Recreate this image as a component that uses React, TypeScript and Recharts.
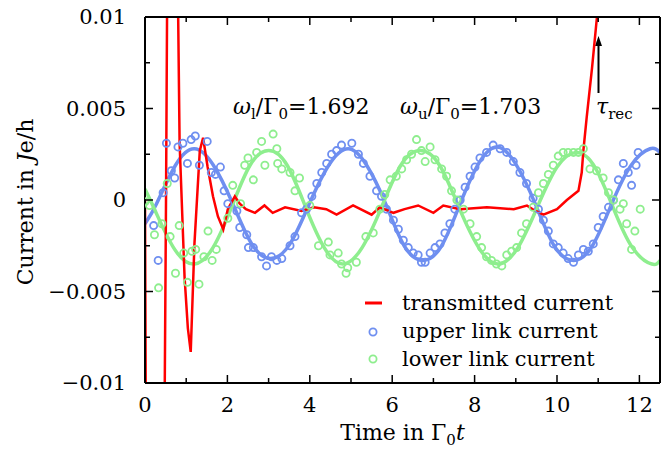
import { ComposedChart, Line, Scatter, XAxis, YAxis, Legend } from "recharts";

// axis ticks (every tick is drawn, only the major ones get a label)
const xTicks = [0, 1, 2, 3, 4, 5, 6, 7, 8, 9, 10, 11, 12];
const yTicks = [-0.01, -0.0075, -0.005, -0.0025, 0, 0.0025, 0.005, 0.0075, 0.01];
const yTickLabels: Record<string, string> = {
  "-0.01": "\u22120.01",
  "-0.005": "\u22120.005",
  "0": "0",
  "0.005": "0.005",
  "0.01": "0.01",
};
const seriesNames = ["transmitted current", "upper link current", "lower link current"];

// transmitted current [t, J]; leaves the plot range near t=0.5 and after tau_rec
const transmitted = [
  [0, 0], [0.02, -0.012], [0.1, -0.03], [0.3, -0.04], [0.45, -0.02], [0.51, 0.0],
  [0.56, 0.02], [0.68, 0.035], [0.78, 0.015], [0.84, 0.0031], [0.96, -0.0042],
  [1.04, -0.007], [1.11, -0.0083], [1.2, -0.0024], [1.33, 0.0027], [1.41, 0.0034],
  [1.52, 0.0018], [1.65, 0.0002], [1.77, -0.0009], [1.9, -0.0016], [2.01, -0.0005],
  [2.18, 0.0002], [2.3, -0.0002], [2.45, -0.0005], [2.67, -0.0007], [2.9, -0.0003],
  [3.1, -0.0007], [3.4, -0.0004], [3.8, -0.0006], [4.1, -0.0004], [4.4, -0.0005],
  [4.65, -0.0008], [5.05, -0.0003], [5.5, -0.0008], [5.7, -0.0004], [6.03, -0.0007],
  [6.3, -0.0005], [6.63, -0.0003], [7.0, -0.0007], [7.24, -0.0003], [7.65, -0.0005],
  [8.3, -0.0004], [8.95, -0.0005], [9.27, -0.0003], [9.4, -0.0005], [9.67, -0.0008],
  [10.0, -0.0005], [10.24, 0.0], [10.52, 0.0005], [10.6, 0.0015], [10.64, 0.0027],
  [10.72, 0.0045], [10.85, 0.0072], [10.97, 0.01], [11.1, 0.013], [11.2, 0.016],
];

// fitted oscillations
const upperFit = [
  [0, -0.0013], [0.28, -0.0002], [0.74, 0.0019], [1.2, 0.0028], [1.66, 0.0019],
  [2.13, -0.0002], [2.59, -0.0024], [3.05, -0.0032], [3.52, -0.0024], [3.99, -0.0002],
  [4.46, 0.0019], [4.93, 0.0028], [5.38, 0.0019], [5.84, -0.0002], [6.29, -0.0025],
  [6.75, -0.0033], [7.2, -0.0025], [7.65, -0.0002], [8.1, 0.002], [8.54, 0.0029],
  [8.99, 0.002], [9.47, -0.0002], [9.93, -0.0025], [10.4, -0.0033], [10.86, -0.0025],
  [11.33, -0.0002], [11.8, 0.0019], [12.26, 0.0028], [12.5, 0.0026],
];
const lowerFit = [
  [0, 0.0006], [0.25, -0.0006], [0.72, -0.0027], [1.2, -0.0035], [1.65, -0.0026],
  [2.1, -0.0004], [2.55, 0.0019], [3.0, 0.0027], [3.45, 0.0019], [3.9, -0.0004],
  [4.35, -0.0026], [4.8, -0.0035], [5.27, -0.0026], [5.74, -0.0004], [6.21, 0.0019],
  [6.68, 0.0027], [7.15, 0.0019], [7.62, -0.0004], [8.1, -0.0026], [8.57, -0.0035],
  [9.05, -0.0026], [9.52, -0.0004], [10.0, 0.0018], [10.48, 0.0026], [10.92, 0.0018],
  [11.36, -0.0004], [11.83, -0.0026], [12.3, -0.0035], [12.5, -0.0033],
];

// simulated link currents
const upperPoints = [
  [0.21, -0.0014], [0.32, -0.0033], [0.44, 0.0004], [0.52, 0.0031], [0.64, 0.0016],
  [0.72, 0.0012], [0.8, 0.0029], [0.92, 0.0031], [1.03, 0.002], [1.12, 0.0033],
  [1.22, 0.0035], [1.32, 0.0019], [1.51, 0.0032], [1.61, 0.0015], [1.71, 0.0014],
  [1.83, 0.0018], [1.92, 0.0005], [2.01, -0.0002], [2.23, -0.0006], [2.3, -0.0015],
  [2.47, -0.0019], [2.51, -0.0026], [2.63, -0.0026], [2.83, -0.0031], [2.95, -0.0036],
  [3.07, -0.0031], [3.2, -0.0033], [3.32, -0.0032], [3.52, -0.0025], [3.64, -0.002],
  [3.8, -0.0007], [3.92, -0.0005], [4.05, 0.0002], [4.17, 0.0009], [4.29, 0.0015],
  [4.41, 0.002], [4.53, 0.0025], [4.65, 0.0027], [4.77, 0.003], [5.02, 0.0031],
  [5.18, 0.0025], [5.3, 0.002], [5.46, 0.0013], [5.62, 0.0005], [5.74, 0.0002],
  [5.86, -0.0005], [6.03, -0.0011], [6.15, -0.0016], [6.27, -0.0022], [6.39, -0.0026],
  [6.51, -0.0029], [6.63, -0.003], [6.71, -0.0034], [6.8, -0.0034], [6.92, -0.0029],
  [7.04, -0.0026], [7.16, -0.0024], [7.28, -0.0018], [7.4, -0.0013], [7.52, -0.0005],
  [7.65, 0.0], [7.77, 0.0007], [7.89, 0.0013], [8.01, 0.0018], [8.13, 0.0023],
  [8.29, 0.0026], [8.45, 0.003], [8.62, 0.0028], [8.78, 0.0026], [8.94, 0.0021],
  [9.1, 0.0015], [9.26, 0.0009], [9.42, 0.0001], [9.55, -0.0005], [9.67, -0.0011],
  [9.79, -0.0017], [9.91, -0.0024], [10.03, -0.0026], [10.15, -0.0029], [10.27, -0.0032],
  [10.4, -0.0034], [10.52, -0.003], [10.64, -0.0027], [10.76, -0.0028], [10.88, -0.0024],
  [11.0, -0.0015], [11.12, -0.0009], [11.25, -0.0004], [11.37, 0.0], [11.49, 0.0011],
  [11.61, 0.002], [11.73, 0.0015], [11.81, 0.0008], [11.92, 0.0019], [11.97, 0.0026],
];
const lowerPoints = [
  [0.0, -0.0001], [0.11, -0.0003], [0.23, -0.0019], [0.33, -0.0048], [0.41, -0.0013],
  [0.54, 0.0009], [0.61, -0.002], [0.74, -0.004], [0.83, -0.0014], [0.94, -0.0029],
  [1.03, -0.0045], [1.14, -0.0028], [1.23, -0.0027], [1.31, -0.0046], [1.43, -0.0031],
  [1.53, -0.0017], [1.63, -0.0033], [1.73, -0.0027], [2.01, -0.001], [2.13, 0.0008],
  [2.32, -0.0002], [2.42, 0.0019], [2.5, 0.0023], [2.63, 0.0011], [2.71, 0.0026],
  [2.83, 0.0032], [2.91, 0.0019], [3.11, 0.0036], [3.2, 0.0028], [3.22, 0.002],
  [3.32, 0.0017], [3.52, 0.0015], [3.64, 0.0005], [3.75, 0.0012], [4.0, -0.0003],
  [4.21, -0.0025], [4.45, -0.0023], [4.49, -0.003], [4.69, -0.0029], [4.77, -0.0035],
  [4.88, -0.004], [4.92, -0.0037], [5.13, -0.0034], [5.36, -0.002], [5.54, -0.0018],
  [5.7, -0.0005], [5.82, 0.0003], [5.95, 0.0011], [6.1, 0.0013], [6.23, 0.0017],
  [6.35, 0.0022], [6.47, 0.0025], [6.59, 0.0033], [6.71, 0.0027], [6.8, 0.0021],
  [6.92, 0.0029], [7.04, 0.0022], [7.2, 0.0017], [7.32, 0.0013], [7.44, 0.0005],
  [7.57, 0.0], [7.73, -0.0005], [7.89, -0.0013], [8.05, -0.002], [8.17, -0.0026],
  [8.29, -0.0031], [8.41, -0.0033], [8.53, -0.0035], [8.66, -0.0036], [8.78, -0.003],
  [8.9, -0.0028], [9.02, -0.0026], [9.14, -0.0018], [9.26, -0.0013], [9.42, -0.0004],
  [9.55, 0.0004], [9.67, 0.0009], [9.79, 0.0014], [9.91, 0.0019], [10.03, 0.0024],
  [10.15, 0.0026], [10.27, 0.0026], [10.4, 0.0026], [10.52, 0.0026], [10.64, 0.0028],
  [10.8, 0.0017], [10.96, 0.0016], [11.12, 0.0012], [11.25, 0.0004], [11.37, 0.0],
  [11.53, -0.0005], [11.61, -0.0002], [11.69, -0.0013], [11.81, -0.0027], [11.89, -0.0017],
  [12.02, -0.0005],
];

const RED = "#ff0000";
const BLUE = "#6f8ff0";
const GREEN = "#8eee8e";
const FONT = "DejaVu Serif";

const toPts = (a: number[][]) => a.map(([t, v]) => ({ t, v }));

const BottomTick = (props: any) => {
  const { x, y, payload } = props;
  const major = payload.value % 2 === 0;
  return (
    <g>
      <line x1={x} x2={x} y1={y} y2={y - (major ? 8 : 5)} stroke="#000" strokeWidth={1.5} />
      {major && (
        <text x={x} y={y + 29} textAnchor="middle" fontFamily={FONT} fontSize={21} fill="#000">
          {payload.value}
        </text>
      )}
    </g>
  );
};

const TopTick = (props: any) => {
  const { x, y, payload } = props;
  const major = payload.value % 2 === 0;
  return <line x1={x} x2={x} y1={y} y2={y + (major ? 8 : 5)} stroke="#000" strokeWidth={1.5} />;
};

const LeftTick = (props: any) => {
  const { x, y, payload } = props;
  const label = yTickLabels[String(payload.value)];
  return (
    <g>
      <line x1={x} x2={x + (label ? 8 : 5)} y1={y} y2={y} stroke="#000" strokeWidth={1.5} />
      {label && (
        <text x={x - 19} y={y + 7} textAnchor="end" fontFamily={FONT} fontSize={21} fill="#000">
          {label}
        </text>
      )}
    </g>
  );
};

const RightTick = (props: any) => {
  const { x, y, payload } = props;
  const major = yTickLabels[String(payload.value)] !== undefined;
  return <line x1={x} x2={x - (major ? 8 : 5)} y1={y} y2={y} stroke="#000" strokeWidth={1.5} />;
};

const circle = (color: string) => (p: any) =>
  <circle cx={p.cx} cy={p.cy} r={3.6} fill="none" stroke={color} strokeWidth={1.8} />;

const LegendBox = () => (
  <svg width={290} height={95} style={{ overflow: "visible" }}>
    <line x1={10} x2={27} y1={18} y2={18} stroke={RED} strokeWidth={3} />
    <circle cx={18} cy={47} r={3.6} fill="none" stroke={BLUE} strokeWidth={1.8} />
    <circle cx={18} cy={74} r={3.6} fill="none" stroke={GREEN} strokeWidth={1.8} />
    {seriesNames.map((name, i) => (
      <text key={name} x={47} y={25 + i * 28} fontFamily={FONT} fontSize={21} fill="#000">
        {name}
      </text>
    ))}
  </svg>
);

const frame = { stroke: "#000", strokeWidth: 2 };

export default function App() {
  return (
    <div style={{ position: "absolute", left: 0, top: 0, background: "#fff" }}>
      <ComposedChart width={671} height={453} margin={{ top: 16, right: 10, bottom: 69, left: 144 }}>
        <XAxis
          xAxisId="bottom" orientation="bottom" type="number" dataKey="t" domain={[0, 12.5]} allowDataOverflow
          ticks={xTicks} interval={0} height={1} tickSize={0} tickMargin={0} tickLine={false} tick={BottomTick}
          axisLine={frame}
        />
        <XAxis
          xAxisId="top" orientation="top" type="number" dataKey="t" domain={[0, 12.5]} allowDataOverflow
          ticks={xTicks} interval={0} height={1} tickSize={0} tickMargin={0} tickLine={false} tick={TopTick}
          axisLine={frame}
        />
        <YAxis
          yAxisId="left" orientation="left" type="number" dataKey="v" domain={[-0.01, 0.01]} allowDataOverflow
          ticks={yTicks} interval={0} width={1} tickSize={0} tickMargin={0} tickLine={false} tick={LeftTick}
          axisLine={frame}
        />
        <YAxis
          yAxisId="right" orientation="right" type="number" dataKey="v" domain={[-0.01, 0.01]} allowDataOverflow
          ticks={yTicks} interval={0} width={1} tickSize={0} tickMargin={0} tickLine={false} tick={RightTick}
          axisLine={frame}
        />
        <Scatter xAxisId="bottom" yAxisId="left" name={seriesNames[1]} data={toPts(upperPoints)} dataKey="v" shape={circle(BLUE)} isAnimationActive={false} />
        <Scatter xAxisId="bottom" yAxisId="left" name={seriesNames[2]} data={toPts(lowerPoints)} dataKey="v" shape={circle(GREEN)} isAnimationActive={false} />
        <Line xAxisId="bottom" yAxisId="left" data={toPts(upperFit)} dataKey="v" type="natural" stroke={BLUE} strokeWidth={3.5} dot={false} legendType="none" isAnimationActive={false} />
        <Line xAxisId="bottom" yAxisId="left" data={toPts(lowerFit)} dataKey="v" type="natural" stroke={GREEN} strokeWidth={3.5} dot={false} legendType="none" isAnimationActive={false} />
        <Line xAxisId="bottom" yAxisId="left" name={seriesNames[0]} data={toPts(transmitted)} dataKey="v" type="linear" stroke={RED} strokeWidth={2.5} dot={false} isAnimationActive={false} />
        <Legend
          layout="vertical" align="center" verticalAlign="middle" content={LegendBox}
          wrapperStyle={{ position: "absolute", left: 355, top: 285, width: 290, height: 95 }}
        />
        <text x={402.5} y={440} textAnchor="middle" fontFamily={FONT} fontSize={22} fill="#000">
          Time in {"\u0393"}
          <tspan fontSize={15} dy={5}>0</tspan>
          <tspan fontStyle="italic" dy={-5}>t</tspan>
        </text>
        <text transform="translate(33,202) rotate(-90)" textAnchor="middle" fontFamily={FONT} fontSize={22} fill="#000">
          Current in <tspan fontStyle="italic">J</tspan>e/h
        </text>
        <text x={233} y={114} fontFamily={FONT} fontSize={22} fill="#000">
          <tspan fontStyle="italic">{"\u03c9"}</tspan>
          <tspan fontSize={15} dy={5}>l</tspan>
          <tspan dy={-5}>/{"\u0393"}</tspan>
          <tspan fontSize={15} dy={5}>0</tspan>
          <tspan dy={-5}>=1.692</tspan>
        </text>
        <text x={400} y={114} fontFamily={FONT} fontSize={22} fill="#000">
          <tspan fontStyle="italic">{"\u03c9"}</tspan>
          <tspan fontSize={15} dy={5}>u</tspan>
          <tspan dy={-5}>/{"\u0393"}</tspan>
          <tspan fontSize={15} dy={5}>0</tspan>
          <tspan dy={-5}>=1.703</tspan>
        </text>
        <text x={596} y={114} fontFamily={FONT} fontSize={22} fill="#000">
          <tspan fontStyle="italic">{"\u03c4"}</tspan>
          <tspan fontSize={15} dy={5}>rec</tspan>
        </text>
        <line x1={598.5} x2={598.5} y1={93} y2={44} stroke="#000" strokeWidth={2} />
        <path d="M598.5,36 L595,46 L602,46 Z" fill="#000" />
      </ComposedChart>
    </div>
  );
}
